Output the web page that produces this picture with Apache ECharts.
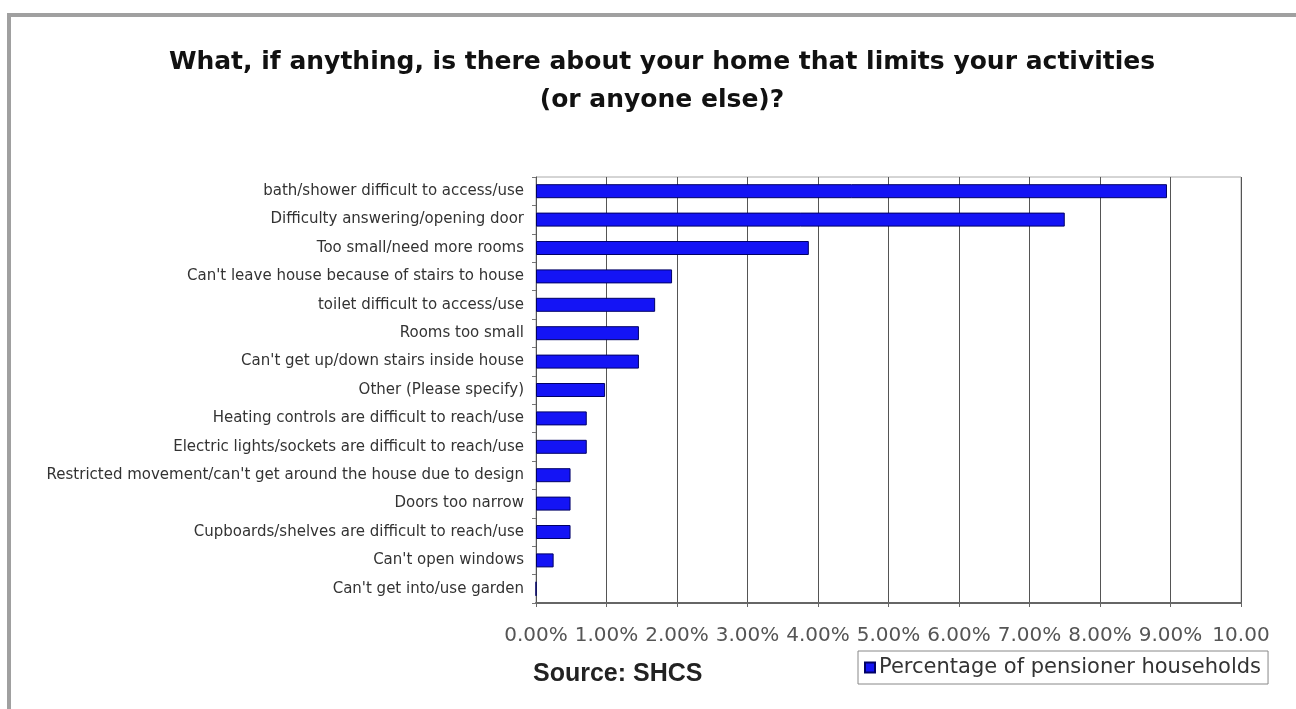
<!DOCTYPE html>
<html>
<head>
<meta charset="utf-8">
<script src="https://cdn.jsdelivr.net/npm/echarts@6/dist/echarts.min.js"></script>
<style>
html,body{margin:0;padding:0;background:#fff;}
#chart{width:1296px;height:709px;}
</style>
</head>
<body>
<div id="chart"></div>
<script>
const titleText = 'What, if anything, is there about your home that limits your activities\n(or anyone else)?';
const categories = [
  'bath/shower difficult to access/use',
  'Difficulty answering/opening door',
  'Too small/need more rooms',
  "Can't leave house because of stairs to house",
  'toilet difficult to access/use',
  'Rooms too small',
  "Can't get up/down stairs inside house",
  'Other (Please specify)',
  'Heating controls are difficult to reach/use',
  'Electric lights/sockets are difficult to reach/use',
  "Restricted movement/can't get around the house due to design",
  'Doors too narrow',
  'Cupboards/shelves are difficult to reach/use',
  "Can't open windows",
  "Can't get into/use garden"
];
const values = [8.95, 7.50, 3.87, 1.93, 1.69, 1.46, 1.46, 0.98, 0.72, 0.72, 0.49, 0.49, 0.49, 0.25, 0];
const seriesName = 'Percentage of pensioner households';
const xTickLabels = ['0.00%','1.00%','2.00%','3.00%','4.00%','5.00%','6.00%','7.00%','8.00%','9.00%','10.00'];
const sourceText = 'Source: SHCS';

const chart = echarts.init(document.getElementById('chart'));
chart.setOption({
  animation: false,
  backgroundColor: '#fff',
  title: {
    text: titleText,
    left: 657,
    textAlign: 'center',
    top: 38,
    textStyle: {fontFamily: 'DejaVu Sans', fontWeight: 'bold', fontSize: 25, lineHeight: 38, color: '#111'}
  },
  grid: {left: 536, right: 55, top: 177, bottom: 106, show: true, borderColor: '#aaa', borderWidth: 1, containLabel: false},
  xAxis: {
    type: 'value', min: 0, max: 10, interval: 1,
    axisLine: {show: true, lineStyle: {color: '#666', width: 2}},
    axisTick: {show: true, length: 4, lineStyle: {color: '#666'}},
    splitLine: {show: true, lineStyle: {color: '#555', width: 1}},
    axisLabel: {
      margin: 23, color: '#555', fontFamily: 'DejaVu Sans', fontSize: 20,
      formatter: function (v) { return xTickLabels[Math.round(v)]; }
    }
  },
  yAxis: {
    type: 'category', data: categories, inverse: true,
    axisLine: {show: true, lineStyle: {color: '#555', width: 1}},
    axisTick: {show: true, length: 4, lineStyle: {color: '#777'}},
    axisLabel: {margin: 12, color: '#333', fontFamily: 'DejaVu Sans', fontSize: 15}
  },
  legend: {
    data: [seriesName],
    left: 858, top: 651,
    orient: 'horizontal',
    borderColor: '#888', borderWidth: 1, padding: [6, 7, 6, 6],
    itemWidth: 10, itemHeight: 10, itemGap: 5,
    icon: 'rect',
    textStyle: {fontFamily: 'DejaVu Sans', fontSize: 21, color: '#333', padding: [0,0,0,-1]}
  },
  graphic: [
    {type: 'line', shape: {x1: 7, y1: 15, x2: 1296, y2: 15}, style: {stroke: '#a0a0a0', lineWidth: 4}},
    {type: 'line', shape: {x1: 9, y1: 13, x2: 9, y2: 709}, style: {stroke: '#a0a0a0', lineWidth: 4}},
    {type: 'text', left: 533, top: 662, style: {text: sourceText, fontFamily: 'Liberation Sans', fontWeight: 'bold', fontSize: 25, fill: '#222'}}
  ],
  series: [{
    name: seriesName,
    type: 'bar',
    data: values,
    barWidth: 14,
    itemStyle: {color: '#1414f5', borderColor: '#000066', borderWidth: 1}
  }]
});
</script>
</body>
</html>
